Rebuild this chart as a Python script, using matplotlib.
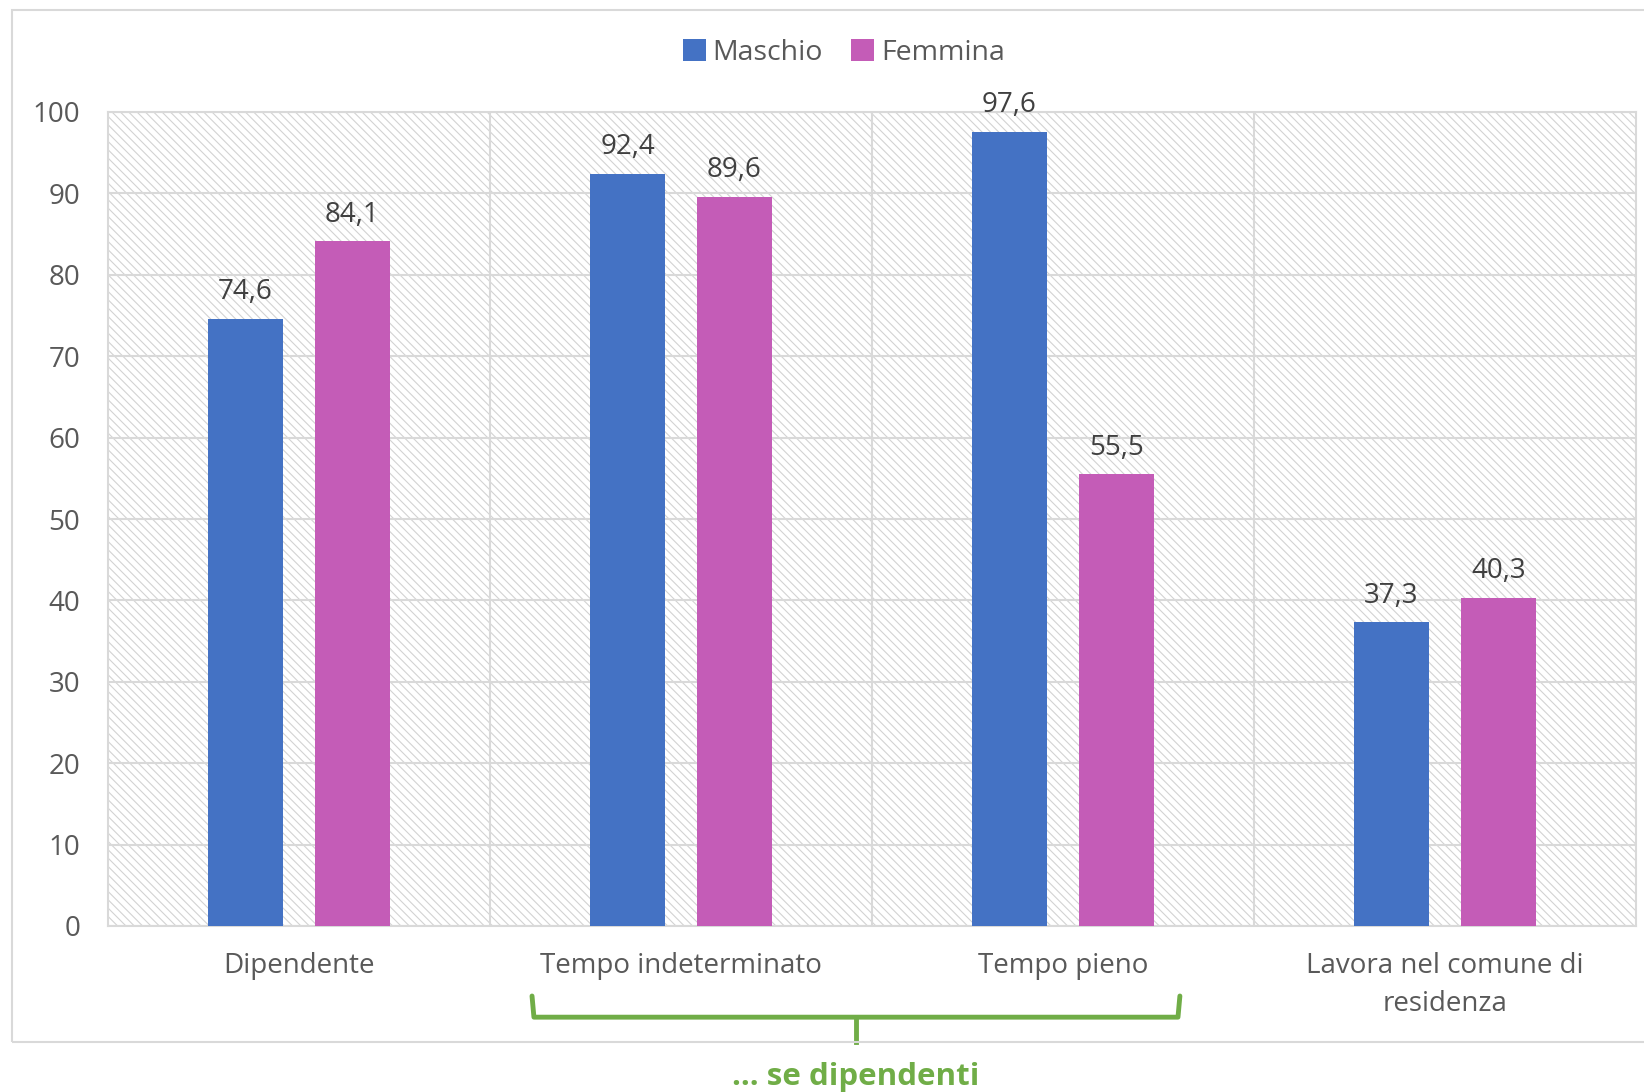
import numpy as np
import matplotlib
matplotlib.use("Agg")
import matplotlib.pyplot as plt
from matplotlib.patches import Rectangle
from matplotlib.lines import Line2D
import matplotlib.transforms as mtransforms

# Data
categories = ["Dipendente", "Tempo indeterminato", "Tempo pieno",
              "Lavora nel comune di\nresidenza"]
maschio = [74.6, 92.4, 97.6, 37.3]
femmina = [84.1, 89.6, 55.5, 40.3]
series_names = ["Maschio", "Femmina"]
yticks = list(range(0, 101, 10))

# Style
plt.rcParams['font.family'] = ['Open Sans', 'DejaVu Sans']
plt.rcParams['hatch.linewidth'] = 0.8
plt.rcParams['hatch.color'] = '#D3D3D3'
blue = '#4472C4'
pink = '#C45CB7'
green = '#70AD47'
text_col = '#595959'
grid_col = '#D9D9D9'

fig = plt.figure(figsize=(16.44, 10.92), dpi=100)

# outer chart border
fig.patches.append(Rectangle((12 / 1644, 1 - 1042 / 1092), 1.0, (1042 - 10) / 1092,
                             transform=fig.transFigure, fill=False,
                             edgecolor=grid_col, linewidth=1.5, zorder=0))

ax = fig.add_axes([108 / 1644, 1 - 926 / 1092, 1528 / 1644, 814 / 1092])

x = np.arange(len(categories))
width = 0.197
offset = 0.14

# hatched background
ax.add_patch(Rectangle((0, 0), 1, 1, transform=ax.transAxes, facecolor='white',
                       hatch='\\\\\\\\', edgecolor='#D3D3D3', linewidth=0, zorder=0))

# gridlines
for yv in yticks:
    ax.axhline(yv, color=grid_col, linewidth=1.5, zorder=1)
for xv in np.arange(0.5, len(categories) - 0.5, 1):
    ax.axvline(xv, color=grid_col, linewidth=1.5, zorder=1)

b1 = ax.bar(x - offset, maschio, width, color=blue, label=series_names[0], zorder=3)
b2 = ax.bar(x + offset, femmina, width, color=pink, label=series_names[1], zorder=3)

for bars in (b1, b2):
    ax.bar_label(bars, labels=[f"{v:.1f}".replace('.', ',') for v in bars.datavalues],
                 padding=9, fontsize=20, color='#404040')

ax.set_xlim(-0.5, len(categories) - 0.5)
ax.set_ylim(0, 100)
ax.set_yticks(yticks)
ax.set_yticklabels([str(v) for v in yticks], fontsize=20, color=text_col)
ax.set_xticks(x)
ax.set_xticklabels(categories, fontsize=20, color=text_col, linespacing=1.45)
ax.tick_params(axis='both', length=0)
ax.tick_params(axis='y', pad=20)
ax.tick_params(axis='x', pad=19)
for s in ax.spines.values():
    s.set_color(grid_col)
    s.set_linewidth(1.5)

ax.legend(loc='center', bbox_to_anchor=(844 / 1644, 1 - 53 / 1092),
          bbox_transform=fig.transFigure, ncol=2, frameon=False,
          fontsize=20.5, handlelength=0.8, handleheight=0.8, handletextpad=0.25,
          columnspacing=1.0, labelcolor=text_col)

# bracket "... se dipendenti"
trans = mtransforms.blended_transform_factory(ax.transData, ax.transAxes)
left_x, right_x, mid_x = 0.61, 2.306, 1.458
y_top, y_mid, y_tip = -0.086, -0.112, -0.142
ax.add_line(Line2D([left_x, left_x + 0.005, right_x - 0.005, right_x],
                   [y_top, y_mid, y_mid, y_top], transform=trans, color=green,
                   linewidth=3.5, solid_joinstyle='round', solid_capstyle='round',
                   clip_on=False))
ax.add_line(Line2D([mid_x, mid_x], [y_mid, y_tip], transform=trans, color=green,
                   linewidth=3.5, clip_on=False))
ax.text(mid_x, -0.186, "... se dipendenti", transform=trans, ha='center', va='center',
        fontsize=22.5, fontweight='bold', color=green)

fig.savefig("out.png", dpi=100)
